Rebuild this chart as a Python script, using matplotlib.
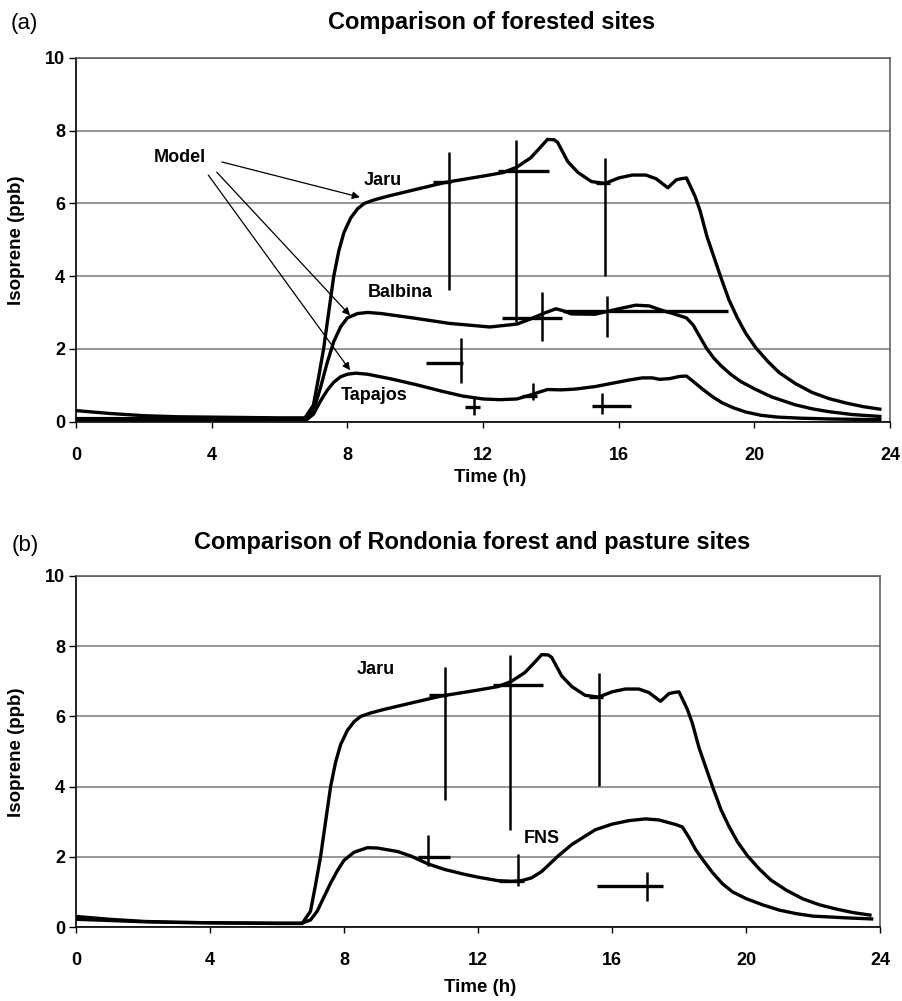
import numpy as np
import matplotlib
matplotlib.use('Agg')
import matplotlib.pyplot as plt

plt.rcParams['font.family'] = ['Liberation Sans', 'DejaVu Sans']

# model curves (hour, isoprene ppb)
hours_jaru = [0, 1, 2, 3, 4, 5, 6, 6.75, 7.0, 7.15, 7.3, 7.45, 7.6, 7.75, 7.9, 8.1, 8.3, 8.5,
              8.8, 9.2, 10.0, 10.9, 12.0, 12.6, 13.0, 13.4, 13.7, 13.9, 14.1, 14.2, 14.5, 14.8,
              15.2, 15.6, 16.0, 16.4, 16.8, 17.1, 17.45, 17.7, 17.85, 18.0, 18.25, 18.4, 18.6,
              18.8, 19.0, 19.25, 19.5, 19.75, 20.05, 20.4, 20.74, 21.2, 21.7, 22.2, 22.7, 23.2, 23.7]
iso_jaru = [0.3, 0.22, 0.16, 0.13, 0.12, 0.11, 0.1, 0.1, 0.45, 1.2, 2.0, 3.0, 4.0, 4.7, 5.2, 5.6,
            5.85, 6.0, 6.1, 6.2, 6.38, 6.58, 6.75, 6.85, 7.0, 7.25, 7.55, 7.76, 7.75, 7.68, 7.15,
            6.85, 6.6, 6.55, 6.7, 6.78, 6.78, 6.68, 6.43, 6.65, 6.68, 6.7, 6.2, 5.8, 5.1,
            4.55, 4.0, 3.35, 2.85, 2.42, 2.02, 1.65, 1.34, 1.05, 0.8, 0.63, 0.51, 0.41, 0.34]

hours_balbina = [0, 2, 4, 6, 6.8, 7.0, 7.2, 7.4, 7.6, 7.8, 8.0, 8.3, 8.6, 9.0, 10.0, 11.0, 12.2,
                 13.0, 13.4, 13.8, 14.15, 14.35, 14.6, 15.3, 16.0, 16.5, 16.9, 17.3, 17.6, 18.0,
                 18.2, 18.4, 18.6, 18.8, 19.0, 19.3, 19.6, 20.0, 20.5, 21.2, 21.7, 22.2, 22.9, 23.7]
iso_balbina = [0.08, 0.08, 0.08, 0.08, 0.08, 0.3, 0.9, 1.6, 2.2, 2.6, 2.85, 2.97, 3.0, 2.97,
               2.84, 2.7, 2.6, 2.68, 2.82, 2.98, 3.1, 3.05, 2.96, 2.95, 3.1, 3.2, 3.18, 3.05,
               2.97, 2.85, 2.65, 2.32, 2.0, 1.75, 1.55, 1.3, 1.1, 0.9, 0.68, 0.46, 0.35, 0.27,
               0.19, 0.14]

hours_tapajos = [0, 2, 4, 6, 6.8, 7.0, 7.2, 7.4, 7.6, 7.8, 8.0, 8.25, 8.6, 9.3, 10.0, 10.8, 11.4,
                 12.0, 12.5, 13.0, 13.4, 13.7, 13.9, 14.3, 14.7, 15.3, 15.8, 16.3, 16.7, 17.0,
                 17.2, 17.5, 17.8, 18.0, 18.2, 18.5, 18.8, 19.06, 19.4, 19.75, 20.2, 20.7, 21.4,
                 22.2, 23.7]
iso_tapajos = [0.05, 0.05, 0.05, 0.05, 0.05, 0.2, 0.55, 0.85, 1.08, 1.23, 1.3, 1.33, 1.3, 1.17,
               1.02, 0.83, 0.7, 0.62, 0.6, 0.62, 0.73, 0.82, 0.88, 0.87, 0.89, 0.96, 1.05, 1.14,
               1.2, 1.2, 1.16, 1.18, 1.24, 1.25, 1.1, 0.87, 0.66, 0.51, 0.37, 0.26, 0.17, 0.12,
               0.09, 0.07, 0.05]

hours_fns = [0, 2, 4, 6, 6.75, 7.0, 7.2, 7.4, 7.6, 7.8, 8.0, 8.3, 8.7, 9.0, 9.6, 10.0, 10.5, 11.0,
             11.6, 12.0, 12.6, 13.0, 13.3, 13.6, 13.9, 14.2, 14.4, 14.8, 15.5, 16.0, 16.5, 17.0,
             17.4, 17.9, 18.1, 18.3, 18.5, 18.7, 19.0, 19.3, 19.6, 20.0, 20.5, 21.0, 21.5, 22.0,
             23.0, 23.75]
iso_fns = [0.22, 0.15, 0.12, 0.11, 0.11, 0.2, 0.45, 0.85, 1.25, 1.6, 1.9, 2.13, 2.26, 2.25, 2.15,
           2.02, 1.8, 1.64, 1.5, 1.42, 1.32, 1.3, 1.32, 1.4, 1.58, 1.85, 2.03, 2.35, 2.77, 2.93,
           3.03, 3.08, 3.05, 2.92, 2.85, 2.55, 2.2, 1.93, 1.55, 1.23, 1.0, 0.81, 0.63, 0.48, 0.38,
           0.31, 0.26, 0.23]

# observations: centre and extent of the bars
jaru_t = [11.0, 12.97, 15.6]
jaru_v = [6.6, 6.9, 6.56]
jaru_tmin = [10.54, 12.45, 15.32]
jaru_tmax = [11.06, 13.95, 15.73]
jaru_vmin = [3.62, 2.75, 4.01]
jaru_vmax = [7.42, 7.75, 7.25]

balbina_t = [11.35, 13.73, 15.65]
balbina_v = [1.6, 2.85, 3.05]
balbina_tmin = [10.33, 12.56, 14.35]
balbina_tmax = [11.42, 14.34, 19.21]
balbina_vmin = [1.06, 2.22, 2.33]
balbina_vmax = [2.3, 3.55, 3.46]

tapajos_t = [11.72, 13.47, 15.5]
tapajos_v = [0.39, 0.69, 0.44]
tapajos_tmin = [11.47, 13.15, 15.2]
tapajos_tmax = [11.91, 13.6, 16.37]
tapajos_vmin = [0.19, 0.58, 0.22]
tapajos_vmax = [0.64, 1.05, 0.78]

fns_t = [10.5, 13.18, 17.03]
fns_v = [2.0, 1.32, 1.16]
fns_tmin = [10.22, 12.63, 15.54]
fns_tmax = [11.15, 13.38, 17.51]
fns_vmin = [1.73, 1.16, 0.74]
fns_vmax = [2.63, 2.09, 1.56]

W, H = 902, 1001
fig = plt.figure(figsize=(W / 100, H / 100), dpi=100)


def px_axes(l, t, r, b):
    return fig.add_axes([l / W, 1 - b / H, (r - l) / W, (b - t) / H])


def px_text(x, y, s, **kw):
    fig.text(x / W, 1 - y / H, s, ha='center', va='center', **kw)


def style(ax):
    ax.set_xlim(0, 24)
    ax.set_ylim(0, 10)
    ax.set_xticks(range(0, 25, 4))
    ax.set_yticks(range(0, 11, 2))
    ax.yaxis.grid(True, color='#7a7a7a', lw=1.1)
    ax.set_axisbelow(True)
    for s in ['top', 'right']:
        ax.spines[s].set_color('#555555')
        ax.spines[s].set_linewidth(1.1)
    for s in ['left', 'bottom']:
        ax.spines[s].set_color('black')
        ax.spines[s].set_linewidth(1.2)
    ax.tick_params(axis='y', direction='out', length=5, width=1, pad=3, labelsize=13)
    ax.tick_params(axis='x', direction='out', length=4, width=1, pad=14, labelsize=13)
    for lab in ax.get_xticklabels() + ax.get_yticklabels():
        lab.set_fontweight('bold')


def draw_obs(ax, t, v, tmin, tmax, vmin, vmax):
    t = np.array(t); v = np.array(v)
    xerr = [t - np.array(tmin), np.array(tmax) - t]
    yerr = [v - np.array(vmin), np.array(vmax) - v]
    ax.errorbar(t, v, yerr=yerr, fmt='none', ecolor='black', elinewidth=1.8, capsize=0)
    ax.errorbar(t, v, xerr=xerr, fmt='none', ecolor='black', elinewidth=2.4, capsize=0)


arrow = dict(arrowstyle='-|>', color='black', lw=0.9, mutation_scale=11, shrinkA=0, shrinkB=0)

# (a)
ax1 = px_axes(76, 58, 890, 421.5)
style(ax1)
ax1.plot(hours_jaru, iso_jaru, color='black', lw=2.4)
ax1.plot(hours_balbina, iso_balbina, color='black', lw=2.4)
ax1.plot(hours_tapajos, iso_tapajos, color='black', lw=2.4)
draw_obs(ax1, jaru_t, jaru_v, jaru_tmin, jaru_tmax, jaru_vmin, jaru_vmax)
draw_obs(ax1, balbina_t, balbina_v, balbina_tmin, balbina_tmax, balbina_vmin, balbina_vmax)
draw_obs(ax1, tapajos_t, tapajos_v, tapajos_tmin, tapajos_tmax, tapajos_vmin, tapajos_vmax)

ax1.text(3.05, 7.27, 'Model', fontsize=13, fontweight='bold', ha='center', va='center')
ax1.annotate('', xy=(8.37, 6.17), xytext=(4.3, 7.14), arrowprops=arrow)
ax1.annotate('', xy=(8.08, 2.92), xytext=(4.15, 6.86), arrowprops=arrow)
ax1.annotate('', xy=(8.08, 1.41), xytext=(3.9, 6.78), arrowprops=arrow)
ax1.text(9.05, 6.62, 'Jaru', fontsize=13, fontweight='bold', ha='center', va='center')
ax1.text(9.55, 3.55, 'Balbina', fontsize=13, fontweight='bold', ha='center', va='center')
ax1.text(8.8, 0.72, 'Tapajos', fontsize=13, fontweight='bold', ha='center', va='center')

# (b)
ax2 = px_axes(76, 576, 880, 927)
style(ax2)
ax2.plot(hours_jaru, iso_jaru, color='black', lw=2.4)
ax2.plot(hours_fns, iso_fns, color='black', lw=2.4)
draw_obs(ax2, jaru_t, jaru_v, jaru_tmin, jaru_tmax, jaru_vmin, jaru_vmax)
draw_obs(ax2, fns_t, fns_v, fns_tmin, fns_tmax, fns_vmin, fns_vmax)
ax2.text(8.95, 7.35, 'Jaru', fontsize=13, fontweight='bold', ha='center', va='center')
ax2.text(13.9, 2.52, 'FNS', fontsize=13, fontweight='bold', ha='center', va='center')

# titles and axis labels
px_text(24, 23, '(a)', fontsize=16)
px_text(492, 22, 'Comparison of forested sites', fontsize=17, fontweight='bold')
px_text(490, 477, 'Time (h)', fontsize=13.5, fontweight='bold')
px_text(17, 240, 'Isoprene (ppb)', fontsize=13.5, fontweight='bold', rotation=90)

px_text(25, 545, '(b)', fontsize=16)
px_text(472, 543, 'Comparison of Rondonia forest and pasture sites', fontsize=17, fontweight='bold')
px_text(480, 988, 'Time (h)', fontsize=13.5, fontweight='bold')
px_text(17, 752, 'Isoprene (ppb)', fontsize=13.5, fontweight='bold', rotation=90)

fig.savefig('out.png', dpi=100)
